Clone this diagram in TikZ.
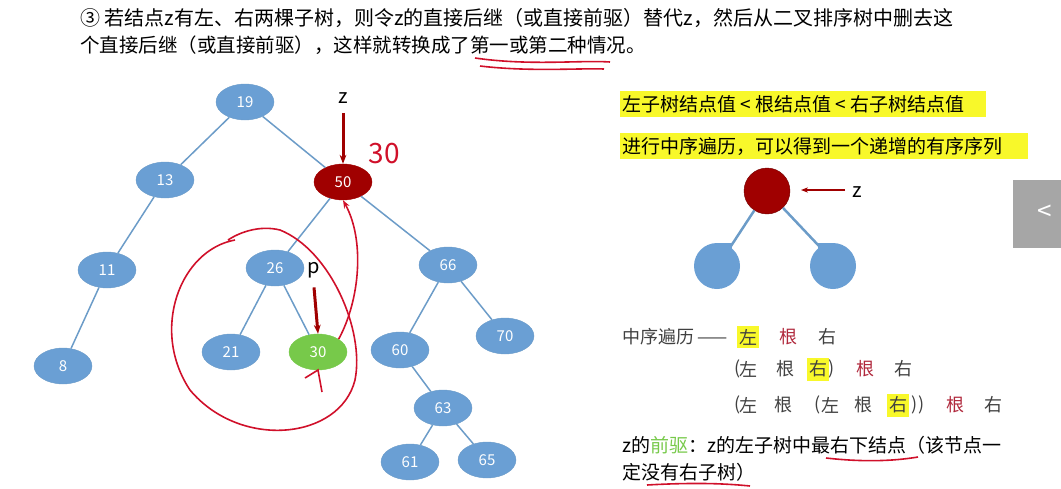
\documentclass[tikz,border=0pt]{standalone}
\usepackage{fontspec}
\setmainfont{Noto Sans CJK SC}
\usetikzlibrary{positioning}
\usetikzlibrary{shapes.geometric, arrows.meta}
\definecolor{nodeblue}{HTML}{6A9FD4}
\definecolor{edgeblue}{HTML}{6C9CC8}
\definecolor{darkred}{HTML}{A00000}
\definecolor{pengreen}{HTML}{77C94A}
\definecolor{ink}{HTML}{D0102A}
\definecolor{rootred}{HTML}{B0283C}
\definecolor{hl}{HTML}{F8F82A}
\tikzset{
    x=1pt, y=-1pt,
    tree/.style={
        ellipse, draw=edgeblue, fill=nodeblue,
        minimum width=58pt, minimum height=36pt,
        inner sep=0pt, text=white, font=\fontsize{15}{15}\selectfont
    },
    link/.style={edgeblue, line width=1.5pt},
    pointer/.style={darkred, line width=3pt, -{Stealth[length=9pt]}},
    hlbox/.style={hl, fill=hl},
    pen/.style={ink, line width=1.6pt},
    txt/.style={anchor=west, inner sep=0pt, font=\fontsize{19}{19}\selectfont},
    ch/.style={inner sep=0pt, font=\fontsize{18}{18}\selectfont, text=black!75}
}
\begin{document}
\begin{tikzpicture}
    \useasboundingbox (0,0) rectangle (1061,488);
    % heading
    \node[txt, font=\fontsize{20}{20}\selectfont] (head1) at (80,18) {③ 若结点\textit{z}有左、右两棵子树，则令\textit{z}的直接后继（或直接前驱）替代\textit{z}，然后从二叉排序树中删去这};
    \node[txt, font=\fontsize{19.5}{20}\selectfont] (head2) at (80,45) {个直接后继（或直接前驱），这样就转换成了第一或第二种情况。};
    \draw[pen] (475,58) .. controls (530,66) and (580,60) .. (610,62);
    \draw[pen] (480,66) .. controls (530,72) and (580,68) .. (604,69);

    % tree
    \node[tree] (19) at (245,102) {19};
    \node[tree] (13) at (165,180) {13};
    \node[tree, fill=darkred, draw=darkred] (50) at (343,182) {50};
    \node[tree] (11) at (107,270) {11};
    \node[tree] (26) at (275,268) {26};
    \node[tree] (66) at (448,265) {66};
    \node[tree] (8) at (63,366) {8};
    \node[tree] (21) at (231,352) {21};
    \node[tree, fill=pengreen, draw=pengreen] (30) at (318,352) {30};
    \node[tree] (60) at (400,350) {60};
    \node[tree] (70) at (505,336) {70};
    \node[tree] (63) at (443,408) {63};
    \node[tree] (61) at (410,462) {61};
    \node[tree] (65) at (487,460) {65};
    \foreach \a/\b in {19/13, 19/50, 13/11, 11/8, 50/26, 50/66, 26/21, 26/30, 66/60, 66/70, 60/63, 63/61, 63/65}
        \draw[link] (\a) -- (\b);

    % pointers
    \node[font=\fontsize{20}{20}\selectfont] (zlabel) at (343,98) {z};
    \draw[pointer] (zlabel.south) ++(0,6) -- (50.north);
    \node[font=\fontsize{20}{20}\selectfont] (plabel) at (314,270) {p};
    \draw[pointer] (plabel.south) ++(0,6) -- (30.north);

    % handwriting
    \node[ink, font=\fontsize{28}{28}\selectfont\itshape] (thirty) at (384,154) {30};
    \draw[pen, -{Stealth[length=8pt]}] (30.north east) .. controls (360,300) and (365,240) .. (50.south);
    \draw[pen] (235,240) .. controls (180,250) and (150,330) .. (190,390)
        .. controls (240,450) and (340,440) .. (355,380)
        .. controls (365,330) and (330,250) .. (280,230)
        .. controls (260,225) and (240,232) .. (228,240);
    \draw[pen] (305,378) -- (318,370) -- (322,392);

    % right side
    \fill[hlbox] (620,91) rectangle (986,117);
    \node[txt] (rule) at (622,104) {左子树结点值 < 根结点值 < 右子树结点值};
    \fill[hlbox] (620,133) rectangle (1028,159);
    \node[txt] (inorder) at (622,146) {进行中序遍历，可以得到一个递增的有序序列};

    \node[circle, fill=darkred, draw=darkred!70!black, minimum size=46pt, inner sep=0pt] (root) at (767,191) {};
    \fill[nodeblue] (717,266) circle (23);
    \fill[nodeblue] (717,243) rectangle (732,266);
    \coordinate (lefttip) at (731,246);
    \fill[nodeblue] (833,266) circle (23);
    \fill[nodeblue] (818,243) rectangle (833,266);
    \coordinate (righttip) at (819,246);
    \draw[link, line width=2.5pt] (root) -- (lefttip);
    \draw[link, line width=2.5pt] (root) -- (righttip);
    \node[font=\fontsize{20}{20}\selectfont] (zright) at (857,192) {z};
    \draw[darkred, line width=1.8pt, -{Stealth[length=7pt]}] (845,190) -- (801,190);

    % in-order rows
    \node[ch, anchor=west] (walk) at (622,337) {中序遍历\,——};
    \fill[hlbox] (737,326) rectangle (759,348);
    \node[ch] (l1) at (748,337) {左};
    \node[ch, text=rootred] (r1) at (788,337) {根};
    \node[ch] (g1) at (827,337) {右};
    \fill[hlbox] (807,358) rectangle (829,381);
    \node[ch] (p2) at (738,369) {(};
    \node[ch] (l2) at (748,369) {左};
    \node[ch] (m2) at (785,369) {根};
    \node[ch] (g2) at (818,369) {右};
    \node[ch] (q2) at (832,369) {)};
    \node[ch, text=rootred] (r2) at (865,369) {根};
    \node[ch] (h2) at (903,369) {右};
    \fill[hlbox] (887,394) rectangle (909,417);
    \node[ch] (p3) at (738,405) {(};
    \node[ch] (l3) at (748,405) {左};
    \node[ch] (m3) at (783,405) {根};
    \node[ch] (pp3) at (818,405) {(};
    \node[ch] (ll3) at (830,405) {左};
    \node[ch] (mm3) at (863,405) {根};
    \node[ch] (gg3) at (898,405) {右};
    \node[ch] (q3) at (918,405) {))};
    \node[ch, text=rootred] (r3) at (955,405) {根};
    \node[ch] (h3) at (993,405) {右};

    \node[txt] (pre1) at (622,445) {z的\textcolor{pengreen}{前驱}：z的左子树中最右下结点（该节点一};
    \node[txt] (pre2) at (622,472) {定没有右子树）};
    \draw[pen] (826,458) .. controls (870,463) and (900,460) .. (918,457);
    \draw[pen] (647,485) .. controls (700,482) and (730,484) .. (750,486);

    % side button
    \fill[gray!70] (1013,180) rectangle (1061,248);
    \node[white, font=\fontsize{26}{26}\selectfont] (back) at (1045,213) {<};
\end{tikzpicture}
\end{document}
